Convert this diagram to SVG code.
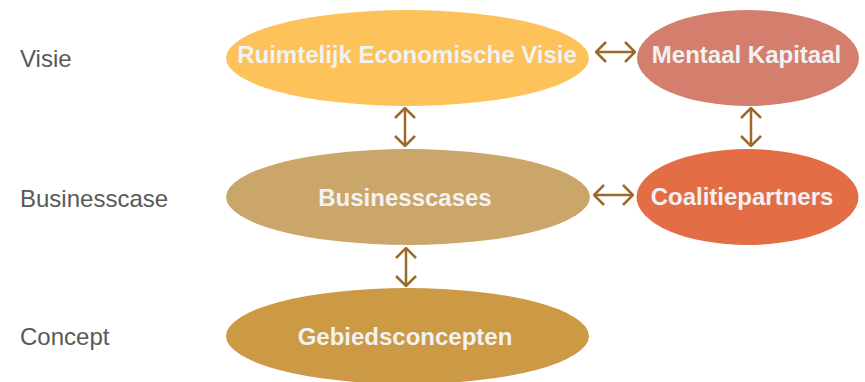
<svg xmlns="http://www.w3.org/2000/svg" width="865" height="382" viewBox="0 0 865 382">
<style>
.lbl{font-family:"Liberation Sans",Arial,sans-serif;font-size:24px;fill:#595959}
.nt{font-family:"Liberation Sans",Arial,sans-serif;font-size:24px;font-weight:bold;fill:#f2f2f2;text-anchor:middle}
.con{stroke:#9b6a2a;stroke-width:2.5;fill:none;marker-start:url(#ah);marker-end:url(#ah)}
</style>
<defs>
<marker id="ah" viewBox="0 0 12 22" refX="11" refY="11" markerWidth="12" markerHeight="22" markerUnits="userSpaceOnUse" orient="auto-start-reverse">
<path d="M1,1 L11,11 L1,21" fill="none" stroke="#9b6a2a" stroke-width="2.5"/>
</marker>
</defs>
<rect width="865" height="382" fill="#ffffff"/>
<text class="lbl" x="20" y="67">Visie</text>
<text class="lbl" x="20" y="207">Businesscase</text>
<text class="lbl" x="20" y="345">Concept</text>
<g id="connectors">
<line class="con" x1="405" y1="108" x2="405" y2="146"/>
<line class="con" x1="406" y1="248" x2="406" y2="286"/>
<line class="con" x1="751" y1="108" x2="751" y2="146"/>
<line class="con" x1="596" y1="52" x2="635" y2="52"/>
<line class="con" x1="594" y1="195" x2="633" y2="195"/>
</g>
<g id="rev">
<ellipse cx="407.5" cy="58" rx="181.5" ry="48" fill="#fdc25a"/>
<text class="nt" x="407" y="63">Ruimtelijk Economische Visie</text>
</g>
<g id="mk">
<ellipse cx="748" cy="58" rx="111" ry="48" fill="#d47f6e"/>
<text class="nt" x="746.5" y="63">Mentaal Kapitaal</text>
</g>
<g id="bc">
<ellipse cx="408" cy="197" rx="182" ry="48" fill="#cba66a"/>
<text class="nt" x="405" y="206">Businesscases</text>
</g>
<g id="cp">
<ellipse cx="747.5" cy="197" rx="111" ry="48" fill="#e36e45"/>
<text class="nt" x="742" y="205">Coalitiepartners</text>
</g>
<g id="gc">
<ellipse cx="407.5" cy="336" rx="181.5" ry="48" fill="#cc9944"/>
<text class="nt" x="405" y="345">Gebiedsconcepten</text>
</g>
</svg>
